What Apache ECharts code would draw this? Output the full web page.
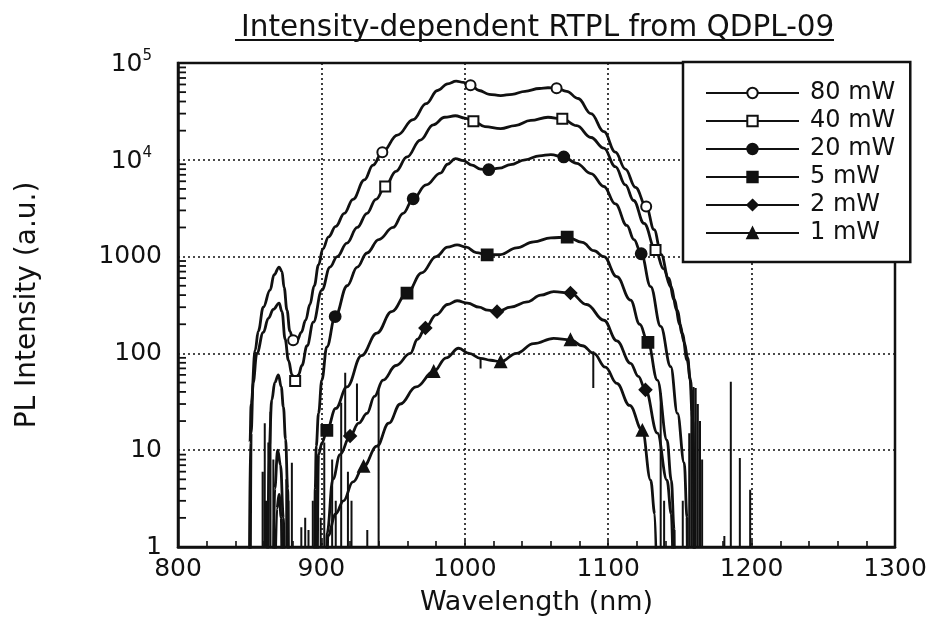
<!DOCTYPE html>
<html>
<head>
<meta charset="utf-8">
<script src="https://cdn.jsdelivr.net/npm/echarts@6.0.0/dist/echarts.min.js"></script>
<style>
  html, body { margin: 0; background: #fff; }
  #chart { width: 932px; height: 624px; }
</style>
</head>
<body>
<div id="chart"></div>
<script>
// spectra: wavelength (nm) and PL intensity (a.u.)
const wl80 = [849.6, 850.2, 851, 853.8, 856, 859.5, 864.2, 867, 870.5, 872.5, 874, 876, 878, 880.3, 883, 886, 889, 892, 895, 898, 901, 905, 910, 916, 922, 930, 936, 942.5, 953, 964, 973, 981, 988, 994, 999, 1004, 1010, 1017, 1025, 1033, 1042, 1052, 1058, 1064, 1071, 1079, 1088, 1097, 1105, 1112, 1119, 1126.5, 1132, 1137, 1142, 1146, 1150, 1153, 1155.5, 1157, 1158.5, 1159.5, 1160];
const pl80 = [0.1, 12, 30, 108, 170, 300, 450, 650, 780, 700, 480, 280, 170, 137, 135, 165, 220, 320, 500, 820, 1200, 1600, 2050, 2800, 3900, 6200, 8800, 12000, 18000, 26000, 38000, 52000, 61000, 65000, 63000, 59000, 52000, 47500, 46000, 47500, 51000, 54500, 55500, 55000, 51000, 43000, 30000, 19500, 12000, 8000, 5200, 3300, 1900, 1050, 600, 360, 200, 130, 90, 55, 25, 6, 0.1];
const mk80 = [880.3, 942.5, 1004, 1064, 1126.5];

const wl40 = [850.3, 851, 852.4, 855, 859.5, 863, 866.5, 870.5, 872.5, 874.7, 877, 879.5, 881.7, 884, 886.4, 890, 894.4, 900.3, 906, 911, 917.8, 925, 931.8, 938, 944.5, 952, 959.7, 969, 978, 986, 993.4, 1000, 1006, 1014, 1025, 1035, 1046, 1058, 1068, 1078, 1088, 1097, 1105, 1112, 1117.7, 1125, 1133, 1138.5, 1143.6, 1148, 1151.7, 1155, 1157.5, 1159, 1160, 1160.5];
const pl40 = [0.1, 15, 50, 100, 165, 230, 285, 330, 270, 140, 85, 60, 52, 60, 75, 120, 210, 450, 780, 1000, 1380, 2000, 2800, 3900, 5300, 7600, 10700, 16000, 23000, 27500, 28500, 27000, 25000, 22000, 21000, 22500, 25500, 27500, 26500, 22500, 17000, 13200, 8500, 5500, 3800, 2200, 1170, 750, 490, 280, 160, 85, 53, 20, 5, 0.1];
const mk40 = [881.7, 944.5, 1006, 1068, 1133];

const wl20 = [862, 863.5, 865.4, 867.5, 870, 872, 873.5, 875, 876.5, 877.5, 895, 895.7, 896.4, 898, 900.3, 903.8, 909.6, 918, 925, 931.8, 940, 950, 957, 964, 973, 983, 988, 993.4, 999, 1005, 1011, 1016.7, 1024, 1031.8, 1042, 1052, 1060, 1069, 1078, 1088, 1097, 1105, 1113, 1118, 1123, 1129.6, 1136.6, 1143.6, 1148.3, 1153, 1155, 1155.5];
const pl20 = [0.1, 10, 33, 50, 60, 45, 28, 13, 4, 0.1, 0.1, 4, 11, 24, 53, 117, 240, 500, 780, 1090, 1500, 2000, 2800, 3950, 5500, 7300, 9000, 10300, 9800, 8800, 8000, 7900, 8200, 8900, 10000, 11000, 11300, 10700, 9200, 7200, 5300, 3500, 2100, 1500, 1070, 490, 190, 73, 24, 7.4, 2, 0.1];
const mk20 = [909.6, 964, 1016.7, 1069, 1123];

const wl5 = [866, 867.5, 869.5, 871.5, 873.5, 874.5, 896.5, 898, 900.5, 903.8, 910, 917.8, 928, 938.7, 949, 959.7, 970, 980, 988, 994.6, 1001, 1008, 1015.6, 1025, 1036, 1048, 1060, 1071.4, 1082, 1090, 1097, 1106, 1115.6, 1122, 1127.7, 1134.3, 1141, 1144, 1146, 1146.5];
const pl5 = [0.1, 4, 10, 7, 2, 0.1, 0.1, 9, 12, 16, 27, 45, 95, 162, 270, 420, 680, 1000, 1250, 1320, 1250, 1100, 1040, 1050, 1230, 1420, 1560, 1590, 1400, 1150, 1000, 620, 355, 200, 130, 53, 12.7, 4.9, 1.5, 0.1];
const mk5 = [903.8, 959.7, 1015.6, 1071.4, 1127.7];

const wl2 = [867, 869, 870.5, 872, 873, 903, 904, 908, 913, 920, 926, 931.8, 937, 943, 952, 962, 967, 972.5, 980, 988, 994.6, 1002, 1010, 1016, 1022.5, 1032, 1043.5, 1053, 1062, 1073.7, 1085, 1097, 1106, 1115.6, 1121, 1126, 1134.3, 1141, 1144, 1146];
const pl2 = [0.1, 2.5, 3.5, 2, 0.1, 0.1, 1.4, 5, 9, 14, 19, 24, 36, 53, 75, 100, 140, 183, 250, 320, 350, 330, 300, 280, 270, 300, 340, 400, 435, 420, 320, 220, 135, 79, 58, 42, 15, 4.9, 2.2, 0.1];
const mk2 = [920, 972.5, 1022.5, 1073.7, 1126];

const wl1 = [903.5, 904.5, 910, 915.4, 922, 929.4, 938.7, 947, 955, 966, 978.3, 987, 995.7, 1003, 1011, 1018, 1025, 1036, 1048, 1062, 1073.7, 1082, 1090, 1098, 1106, 1115, 1123.8, 1129.6, 1132.5, 1134.5];
const pl1 = [0.1, 1.3, 2.2, 3, 4.7, 6.8, 11, 19, 30, 45, 65, 90, 113, 100, 89, 85, 82, 100, 126, 143, 138, 120, 100, 72, 49, 29, 16, 4.9, 2.2, 0.1];
const mk1 = [929.4, 978.3, 1025, 1073.7, 1123.8];

// detector noise spikes: wavelength, lower end, upper end
const spikeWl = [859, 860.5, 861.5, 863, 864.5, 866.5, 875.5, 877, 879.4, 886, 888.7, 891, 894, 897, 899.5, 902, 907.5, 910, 913.8, 916.6, 918.5, 921, 924.8, 932, 939.9, 1011, 1089.6, 1136.6, 1139, 1152, 1156.5, 1158, 1159.5, 1161, 1162.5, 1164, 1165.5, 1181, 1185.5, 1191.8, 1199];
const spikeLo = [0.1, 0.1, 0.1, 0.1, 0.1, 0.1, 0.1, 0.1, 0.1, 0.1, 0.1, 0.1, 0.1, 0.1, 0.1, 0.1, 0.1, 0.1, 0.1, 14, 0.1, 0.1, 20, 0.1, 0.1, 70, 44, 0.1, 0.1, 0.1, 0.1, 0.1, 0.1, 0.1, 0.1, 0.1, 0.1, 0.1, 0.1, 0.1, 0.1];
const spikeHi = [6, 19, 3, 12, 25, 8, 5, 3, 7.4, 1.6, 2, 1.5, 3, 5, 2, 12, 8, 3, 31, 63, 6, 3, 49, 1.5, 42, 89, 105, 39, 3, 3, 15, 42, 45, 44, 30, 20, 8, 1.3, 51, 8.3, 3.9];

const xTicks = [800, 900, 1000, 1100, 1200, 1300];
const yDecades = [1, 10, 100, 1000, 10000, 100000];
const yMinorTicks = [];
yDecades.slice(0, 5).forEach(d => { for (let k = 2; k <= 9; k++) yMinorTicks.push(k * d); });

const names = ['80 mW', '40 mW', '20 mW', '5 mW', '2 mW', '1 mW'];
const FONT = 'DejaVu Sans';
const INK = '#111';

function spectrum (name, wl, pl, marks, symbol, size) {
  return {
    name: name,
    type: 'line',
    smooth: 0.4,
    smoothMonotone: 'x',
    symbol: symbol,
    symbolSize: size,
    showAllSymbol: true,
    clip: true,
    z: 3,
    lineStyle: { color: INK, width: 2.8 },
    itemStyle: { color: INK, borderColor: INK, borderWidth: 1.8 },
    data: wl.map((x, i) => marks.indexOf(x) >= 0 ? [x, pl[i]] : { value: [x, pl[i]], symbol: 'none' })
  }
}

const noiseData = []
spikeWl.forEach((x, i) => {
  noiseData.push([x, spikeLo[i]], [x, spikeHi[i]], [x, null])
})

const dotted = { color: INK, type: [2, 3], width: 1.6 }

const chart = echarts.init(document.getElementById('chart'))
const option = {
  backgroundColor: '#fff',
  animation: false,
  title: {
    text: 'Intensity-dependent RTPL from QDPL-09',
    left: 236,
    top: 8,
    textStyle: { fontFamily: FONT, fontSize: 29.5, fontWeight: 'normal', color: INK }
  },
  legend: {
    orient: 'vertical',
    left: 683,
    top: 62,
    padding: [19, 15, 17, 22],
    itemWidth: 93,
    itemHeight: 13,
    itemGap: 4,
    backgroundColor: '#fff',
    borderColor: INK,
    borderWidth: 2.5,
    textStyle: { fontFamily: FONT, fontSize: 24, lineHeight: 24, color: INK, padding: [0, 0, 0, 6] },
    data: names
  },
  grid: { left: 178, right: 37, top: 63, bottom: 77, show: true, borderColor: INK, borderWidth: 2.5, backgroundColor: 'transparent' },
  xAxis: {
    type: 'value',
    min: xTicks[0],
    max: xTicks[xTicks.length - 1],
    interval: 100,
    axisLine: { lineStyle: { color: INK, width: 2.5 } },
    axisTick: { inside: true, length: 7, lineStyle: { color: INK, width: 1.6 } },
    minorTick: { show: true, splitNumber: 5, length: 6, lineStyle: { color: INK, width: 1.6 } },
    splitLine: { show: true, lineStyle: dotted },
    axisLabel: { margin: 10, fontFamily: FONT, fontSize: 25, color: INK, formatter: v => String(v) },
    name: 'Wavelength (nm)',
    nameLocation: 'middle',
    nameGap: 42,
    nameTextStyle: { fontFamily: FONT, fontSize: 27, color: INK }
  },
  yAxis: {
    type: 'log',
    logBase: 10,
    min: yDecades[0],
    max: yDecades[yDecades.length - 1],
    axisLine: { show: true, lineStyle: { color: INK, width: 2.5 } },
    axisTick: { show: false },
    splitLine: { show: true, lineStyle: dotted },
    axisLabel: {
      margin: 16,
      formatter: function (v) {
        const e = Math.round(Math.log10(v))
        return e >= 4 ? '{b|10}{s|' + e + '}' : '{b|' + Math.round(v) + '}'
      },
      rich: {
        b: { fontFamily: FONT, fontSize: 25, color: INK, verticalAlign: 'bottom' },
        s: { fontFamily: FONT, fontSize: 15, color: INK, verticalAlign: 'bottom', padding: [0, 10, 13, 0] }
      }
    },
    name: 'PL Intensity (a.u.)',
    nameLocation: 'middle',
    nameGap: 136,
    nameTextStyle: { fontFamily: FONT, fontSize: 28, color: INK }
  },
  series: [
    spectrum(names[0], wl80, pl80, mk80, 'emptyCircle', 10),
    spectrum(names[1], wl40, pl40, mk40, 'emptyRect', 10),
    spectrum(names[2], wl20, pl20, mk20, 'circle', 11),
    spectrum(names[3], wl5, pl5, mk5, 'rect', 11),
    spectrum(names[4], wl2, pl2, mk2, 'diamond', 12),
    spectrum(names[5], wl1, pl1, mk1, 'triangle', 11),
    {
      name: 'noise',
      type: 'line',
      symbol: 'none',
      clip: true,
      z: 2,
      connectNulls: false,
      lineStyle: { color: INK, width: 2 },
      data: noiseData
    },
    {
      // inward minor ticks of the log axis, positioned through the axis scale
      name: 'minor ticks',
      type: 'custom',
      silent: true,
      clip: false,
      z: 6,
      renderItem: function (params, api) {
        const p = api.coord([api.value(0), api.value(1)])
        return {
          type: 'line',
          shape: { x1: p[0], y1: p[1], x2: p[0] + 8, y2: p[1] },
          style: { stroke: INK, lineWidth: 1.8 }
        }
      },
      encode: { x: 0, y: 1 },
      data: yMinorTicks.map(v => [xTicks[0], v])
    }
  ],
  graphic: [
    { type: 'line', z: 50, shape: { x1: 235, y1: 40, x2: 834, y2: 40 }, style: { stroke: INK, lineWidth: 1.8 } }
  ]
}
chart.setOption(option)
</script>
</body>
</html>
